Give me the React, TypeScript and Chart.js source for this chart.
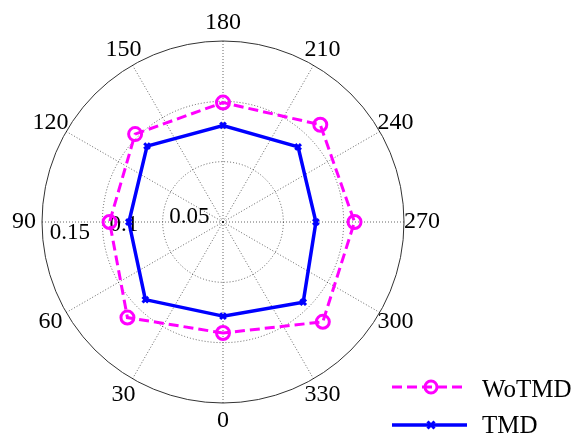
import { useEffect, useRef } from 'react';
import { Chart, registerables } from 'chart.js';

Chart.register(...registerables);

// ---- data ----
const angleTickLabels = ['0', '30', '60', '90', '120', '150', '180', '210', '240', '270', '300', '330'];
const radialTicks = [0.05, 0.1, 0.15];
const radialTickLabels = ['0.05', '0.1', '0.15'];
const dataAngles = [0, 45, 90, 135, 180, 225, 270, 315];
const woTMD = [0.092, 0.112, 0.094, 0.103, 0.099, 0.114, 0.109, 0.117];
const tmd = [0.078, 0.091, 0.078, 0.089, 0.080, 0.088, 0.077, 0.094];
const seriesNames = ['WoTMD', 'TMD'];
const R_MAX = 0.15;
const ANGLE_STEP = 15;

// slots every 15 degrees so that both 30-degree spokes and 45-degree data fit
const slotLabels = Array.from({ length: 360 / ANGLE_STEP }, (_, i) => String(i * ANGLE_STEP));
const toSlots = (vals: number[]) =>
  slotLabels.map((l) => {
    const k = dataAngles.indexOf(Number(l));
    return k >= 0 ? vals[k] : null;
  });

const FONT = '"Liberation Serif", "Times New Roman", serif';
const MAGENTA = '#ff00ff';
const BLUE = '#0000ff';

const overlay = {
  id: 'overlay',
  beforeDatasetsDraw(chart: any) {
    const s = chart.scales.r;
    const ctx = chart.ctx;
    ctx.save();
    ctx.font = `23px ${FONT}`;
    ctx.fillStyle = '#000';
    ctx.textAlign = 'left';
    ctx.textBaseline = 'alphabetic';
    const idx90 = slotLabels.indexOf('90');
    radialTicks.forEach((v, k) => {
      const d = s.getDistanceFromCenterForValue(v + R_MAX / 20);
      const p = s.getPointPosition(idx90, d, (-8 * Math.PI) / 180);
      ctx.fillText(radialTickLabels[k], p.x + 15, p.y - 9);
    });
    ctx.restore();
  },
  afterDraw(chart: any) {
    const s = chart.scales.r;
    const ctx = chart.ctx;
    ctx.save();
    ctx.font = `24px ${FONT}`;
    ctx.fillStyle = '#000';
    ctx.textAlign = 'center';
    ctx.textBaseline = 'middle';
    angleTickLabels.forEach((lab) => {
      const i = slotLabels.indexOf(lab);
      const p = s.getPointPosition(i, s.drawingArea * 1.1);
      ctx.fillText(lab, p.x, p.y);
    });

    // legend
    const x0 = 392;
    const x1 = 467;
    const xm = 431;
    const xt = 482;
    const rows = [387, 425];
    // WoTMD
    ctx.lineWidth = 3;
    ctx.strokeStyle = MAGENTA;
    ctx.setLineDash([10, 5]);
    ctx.beginPath();
    ctx.moveTo(x0, rows[0]);
    ctx.lineTo(x1, rows[0]);
    ctx.stroke();
    ctx.setLineDash([]);
    ctx.lineWidth = 3;
    ctx.beginPath();
    ctx.arc(xm, rows[0], 6, 0, Math.PI * 2);
    ctx.stroke();
    // TMD
    ctx.lineWidth = 3.5;
    ctx.strokeStyle = BLUE;
    ctx.beginPath();
    ctx.moveTo(x0, rows[1]);
    ctx.lineTo(x1, rows[1]);
    ctx.stroke();
    ctx.lineWidth = 3;
    const r = 3.5;
    ctx.beginPath();
    ctx.moveTo(xm - r, rows[1] - r);
    ctx.lineTo(xm + r, rows[1] + r);
    ctx.moveTo(xm - r, rows[1] + r);
    ctx.lineTo(xm + r, rows[1] - r);
    ctx.stroke();

    ctx.font = `25px ${FONT}`;
    ctx.fillStyle = '#000';
    ctx.textAlign = 'left';
    ctx.textBaseline = 'middle';
    ctx.fillText(seriesNames[0], xt, rows[0] + 3);
    ctx.fillText(seriesNames[1], xt, rows[1] + 1);
    ctx.restore();
  },
};

export default function App() {
  const ref = useRef<HTMLCanvasElement>(null);
  useEffect(() => {
    const chart = new Chart(ref.current as HTMLCanvasElement, {
      type: 'radar',
      data: {
        labels: slotLabels,
        datasets: [
          {
            label: seriesNames[0],
            data: toSlots(woTMD) as any,
            borderColor: MAGENTA,
            borderWidth: 3,
            borderDash: [10, 5],
            backgroundColor: 'transparent',
            fill: false,
            pointStyle: 'circle',
            pointRadius: 6.5,
            pointBorderWidth: 3,
            pointBorderColor: MAGENTA,
            pointBackgroundColor: 'transparent',
            spanGaps: true,
          },
          {
            label: seriesNames[1],
            data: toSlots(tmd) as any,
            borderColor: BLUE,
            borderWidth: 3.5,
            backgroundColor: 'transparent',
            fill: false,
            pointStyle: 'crossRot',
            pointRadius: 4,
            pointBorderWidth: 3,
            pointBorderColor: BLUE,
            pointBackgroundColor: BLUE,
            spanGaps: true,
          },
        ],
      },
      options: {
        animation: false,
        responsive: false,
        devicePixelRatio: 1,
        layout: { padding: { left: 42, top: 41, right: 172, bottom: 37 } },
        elements: { line: { tension: 0 } },
        plugins: { legend: { display: false }, tooltip: { enabled: false } },
        scales: {
          r: {
            min: 0,
            max: R_MAX,
            startAngle: 180,
            ticks: { display: false, stepSize: 0.05 },
            pointLabels: { display: false },
            grid: {
              circular: true,
              color: (c: any) => (c.tick && c.tick.value >= R_MAX - 1e-9 ? '#333' : 'rgba(0,0,0,0.6)'),
              lineWidth: 1,
            },
            border: {
              dash: (c: any) => (c.tick && c.tick.value >= R_MAX - 1e-9 ? [] : [1, 2]),
            } as any,
            angleLines: {
              display: true,
              color: 'rgba(0,0,0,0.6)',
              lineWidth: (c: any) => (c.index % 2 === 0 ? 1 : 0),
              borderDash: [1, 2],
            },
          },
        },
      },
      plugins: [overlay],
    });
    return () => chart.destroy();
  }, []);
  return (
    <div style={{ position: 'fixed', left: 0, top: 0, width: 576, height: 440, background: '#fff' }}>
      <canvas ref={ref} width={576} height={440} style={{ width: 576, height: 440, display: 'block' }} />
    </div>
  );
}
